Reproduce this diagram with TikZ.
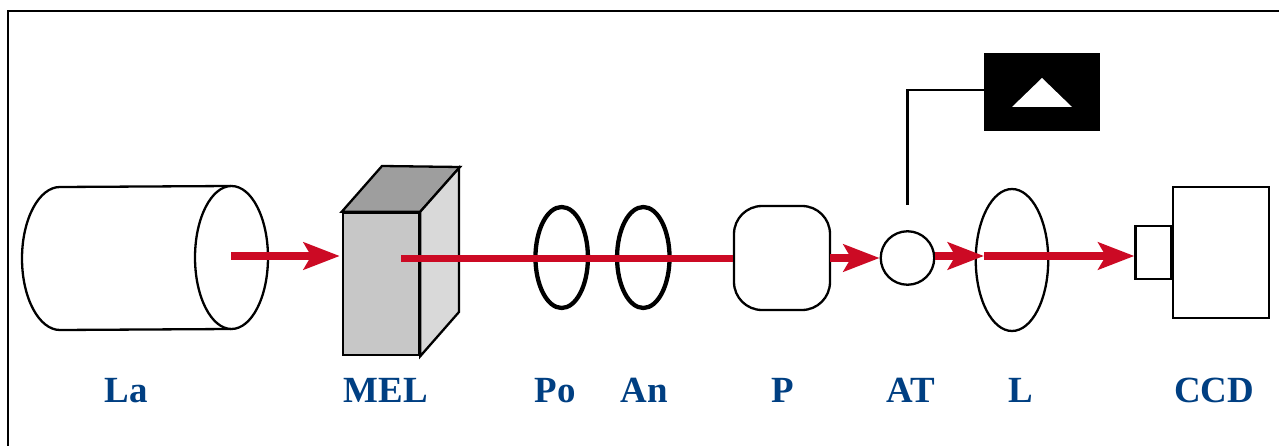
\documentclass[tikz,border=0pt]{standalone}
\usepackage{fontspec}
\setmainfont{Liberation Serif}
\usetikzlibrary{arrows.meta,shapes.geometric}
\definecolor{beamred}{HTML}{CC0A24}
\definecolor{labelblue}{HTML}{003F82}
\tikzset{
  outline/.style={draw, line width=0.046cm, fill=white, inner sep=0pt},
  lens/.style={outline, ellipse},
  thicklens/.style={lens, line width=0.086cm, minimum width=1.05cm, minimum height=2.02cm},
  beam/.style={draw=beamred, line width=0.16cm,
    -{Stealth[length=0.72cm, width=0.54cm, inset=0.15cm, fill=beamred]}},
  beamline/.style={draw=beamred, line width=0.16cm},
  label/.style={anchor=base, text=labelblue, font=\bfseries\fontsize{21}{21}\selectfont},
}
\begin{document}
\begin{tikzpicture}[x=0.02cm, y=-0.02cm]

    \useasboundingbox (0,0) rectangle (1279,446);

    % frame
    \draw[line width=0.055cm] (8,446) -- (8,11) -- (1279,11);

    % laser tube
    \draw[line width=0.046cm] (231,186) -- (60,187) arc[start angle=-90, end angle=-270, x radius=38, y radius=71.5] -- (231,329);
    \node[lens, minimum width=1.46cm, minimum height=2.86cm] (la) at (231.5,257.5) {};

    % modulator block
    \node[outline, fill=black!22, minimum width=1.52cm, minimum height=2.84cm, line width=0.05cm] (mel) at (381,284) {};
    \draw[line width=0.046cm, fill=black!38] (mel.north west) -- (382,166) -- (460,167) -- (mel.north east) -- cycle;
    \draw[line width=0.046cm, fill=black!15] (mel.north east) -- (459,168) -- (459,312) -- (mel.south east) -- cycle;

    % polariser, analyser
    \node[thicklens] (po) at (561.7,257.5) {};
    \node[thicklens] (an) at (643.3,257.5) {};

    % the other optics
    \node[outline, rounded corners=0.56cm, minimum width=1.92cm, minimum height=2.08cm] (p) at (782,258) {};
    \node[outline, circle, minimum size=1.07cm] (at) at (907.5,258) {};
    \node[lens, minimum width=1.45cm, minimum height=2.84cm] (l) at (1012,260) {};

    % camera
    \node[outline, minimum width=1.92cm, minimum height=2.62cm] (ccd) at (1221,252.5) {};
    \node[outline, minimum width=0.72cm, minimum height=1.06cm] (ccdlens) at (1153.5,252.5) {};

    % black box
    \node[fill=black, minimum width=2.32cm, minimum height=1.56cm, inner sep=0pt] (box) at (1042,92) {};
    \fill[white] (1012,107) -- (1042,78) -- (1072,107) -- cycle;

    % lead from the box
    \coordinate (leadend) at (907.5,205);
    \draw[line width=0.046cm] ([yshift=0.04cm]box.west) -| (leadend);

    % beam
    \coordinate (beamone) at (231,256);
    \coordinate (beamtwo) at (401,258.5);
    \coordinate (beamthree) at (830,258);
    \coordinate (beamfour) at (934.5,256);
    \coordinate (beamfive) at (984,256);
    \draw[beam, shorten >=0.04cm] (beamone) -- (beamone -| mel.west);
    \draw[beamline] (beamtwo) -- (beamtwo -| p.west);
    \draw[beam] (beamthree) -- (at.west);
    \draw[beam] (beamfour) -- (beamfive);
    \draw[beam] (beamfive) -- (beamfive -| ccdlens.west);

    % labels
    \node[label] (lala) at (126.5,402) {La};
    \node[label] (lamel) at (386,402) {MEL};
    \node[label] (lapo) at (555,402) {Po};
    \node[label] (laan) at (644,402) {An};
    \node[label] (lap) at (783,402) {P};
    \node[label] (laat) at (911,402) {AT};
    \node[label] (lal) at (1021,402) {L};
    \node[label] (laccd) at (1214,402) {CCD};

  \end{tikzpicture}
\end{document}
